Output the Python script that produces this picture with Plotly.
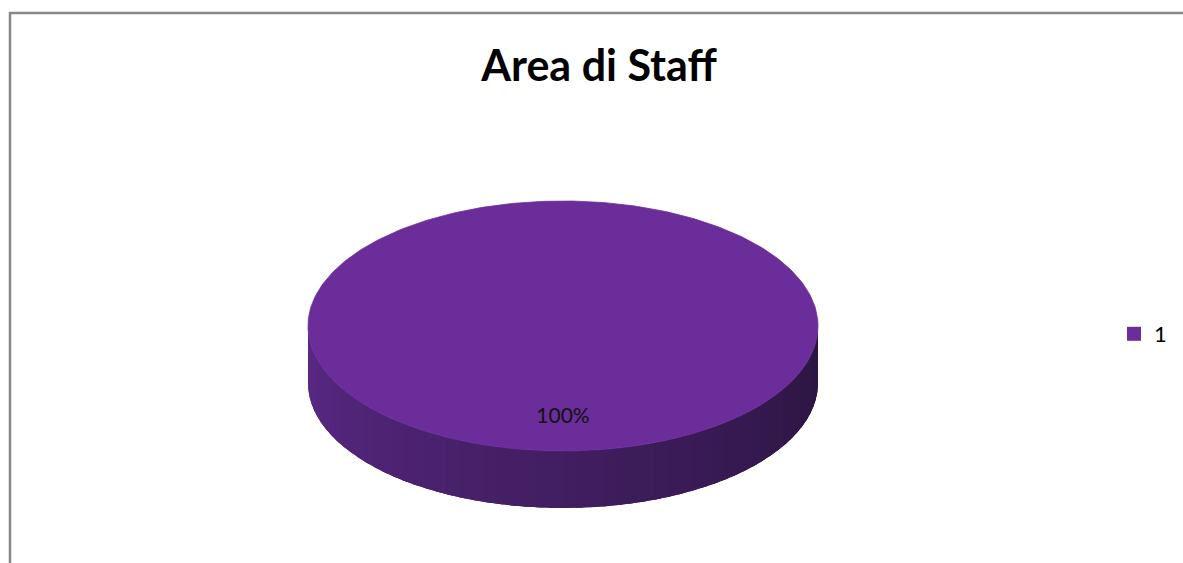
import numpy as np
import plotly.graph_objects as go

# ---- data ----
categories = ["1"]
values = [100]
title_text = "Area di Staff"

# ---- styling / geometry (pixel space) ----
W, H = 1183, 563
CX, CY = 563, 326          # centre of top face
RX, RY = 255, 125          # radii of top face
DEPTH = 57                 # thickness of the pie
TOP_COLOR = "#6A2D9A"
SIDE_LEFT = np.array([0x5C, 0x29, 0x88])
SIDE_RIGHT = np.array([0x2B, 0x15, 0x40])
FONT = "Lato, 'Open Sans', sans-serif"

total = sum(values)
fractions = [v / total for v in values]

fig = go.Figure()

def ell(t, dy=0.0):
    return CX + RX * np.cos(t), CY + RY * np.sin(t) + dy

# side (front half of the cylinder), shaded in overlapping strips left -> right
start = 0.0
for cat, frac in zip(categories, fractions):
    a0, a1 = start, start + 2 * np.pi * frac
    start = a1
    lo, hi = max(a0, 0.0), min(a1, np.pi)
    if hi > lo:
        n = 60
        edges = np.linspace(hi, lo, n + 1)   # from left (pi) to right (0)
        step = (hi - lo) / n
        for i in range(n):
            ta = edges[i]
            tb = max(edges[i + 1] - 1.5 * step, lo) if i < n - 1 else edges[i + 1]
            tt = np.linspace(ta, tb, 6)
            x_top, y_top = ell(tt)
            x_bot, y_bot = ell(tt[::-1], DEPTH)
            s = (i / (n - 1)) ** 0.9
            c = SIDE_LEFT + (SIDE_RIGHT - SIDE_LEFT) * s
            col = "rgb(%d,%d,%d)" % tuple(c.astype(int))
            fig.add_trace(go.Scatter(
                x=np.concatenate([x_top, x_bot]),
                y=np.concatenate([y_top, y_bot]),
                mode="lines", fill="toself", fillcolor=col,
                line=dict(width=0), hoverinfo="skip", showlegend=False))

# top faces
start = 0.0
for cat, frac in zip(categories, fractions):
    a0, a1 = start, start + 2 * np.pi * frac
    start = a1
    tt = np.linspace(a0, a1, 361)
    xs, ys = ell(tt)
    if frac < 1:
        xs = np.concatenate([[CX], xs, [CX]])
        ys = np.concatenate([[CY], ys, [CY]])
    fig.add_trace(go.Scatter(
        x=xs, y=ys, mode="lines", fill="toself", fillcolor=TOP_COLOR,
        line=dict(width=0.8, color=TOP_COLOR), name=cat,
        hoverinfo="skip", showlegend=False))

# data labels
start = 0.0
lx, ly, lt = [], [], []
for cat, frac in zip(categories, fractions):
    mid = np.pi / 2 if frac >= 1 else start + np.pi * frac
    start += 2 * np.pi * frac
    x, y = ell(np.array([mid]))
    lx.append(CX + (x[0] - CX) * 0.73)
    ly.append(CY + (y[0] - CY) * 0.73)
    lt.append("%d%%" % round(frac * 100))
fig.add_trace(go.Scatter(
    x=lx, y=ly, text=lt, mode="text",
    textfont=dict(family=FONT, size=21, color="#111111"),
    hoverinfo="skip", showlegend=False))

# legend entries
for cat in categories:
    fig.add_trace(go.Scatter(
        x=[None], y=[None], mode="markers", name=cat,
        marker=dict(symbol="square", size=14, color=TOP_COLOR)))

fig.update_layout(
    width=W, height=H,
    margin=dict(l=0, r=0, t=0, b=0),
    paper_bgcolor="white", plot_bgcolor="white",
    title=dict(text="<b>%s</b>" % title_text, x=599 / W, xanchor="center",
               y=1 - 66 / H, yanchor="middle",
               font=dict(family=FONT, size=43, color="#000000")),
    xaxis=dict(range=[0, W], visible=False, fixedrange=True),
    yaxis=dict(range=[H, 0], visible=False, fixedrange=True),
    legend=dict(x=1114 / W, y=1 - 334 / H, xanchor="left", yanchor="middle",
                font=dict(family=FONT, size=22, color="#000000"),
                itemwidth=30, bgcolor="rgba(0,0,0,0)"),
    shapes=[dict(type="rect", xref="x", yref="y", x0=10, y0=13, x1=W + 10, y1=H + 10,
                 line=dict(color="#888888", width=2.5), layer="below")],
)

fig.write_html("out.html", config={"displayModeBar": False},
               post_script="document.body.style.margin='0';document.body.style.overflow='hidden';")
